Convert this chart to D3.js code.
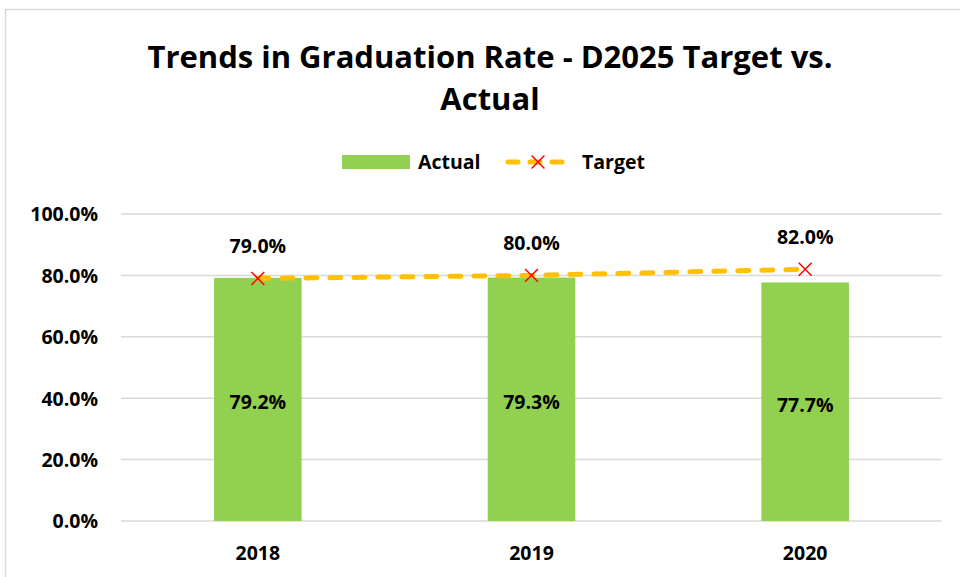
<!DOCTYPE html>
<html>
<head>
<meta charset="utf-8">
<title>Trends in Graduation Rate</title>
<script src="https://cdn.jsdelivr.net/npm/d3@7"></script>
<style>
  body { margin: 0; background: #fff; }
  svg text { font-family: "Open Sans", "Liberation Sans", sans-serif; font-weight: bold; fill: #000; }
</style>
</head>
<body>
<svg id="chart" width="960" height="577"></svg>
<script>
// data
var years = ["2018", "2019", "2020"];
var actual = [79.2, 79.3, 77.7];
var target = [79.0, 80.0, 82.0];
var yTicks = [0, 20, 40, 60, 80, 100];

var svg = d3.select("#chart");
var fs = "19.5px";

// chart frame (runs off the right/bottom edge)
svg.append("rect")
  .attr("x", 5.5).attr("y", 9.5)
  .attr("width", 1000).attr("height", 600)
  .attr("fill", "#fff").attr("stroke", "#d9d9d9").attr("stroke-width", 1.5);

var x = d3.scaleBand().domain(years).range([121, 942]).paddingInner(0.68).paddingOuter(0.34);
var y = d3.scaleLinear().domain([0, 100]).range([521, 214]);

// title
svg.append("text")
  .attr("x", 490).attr("y", 68)
  .attr("text-anchor", "middle")
  .style("font-size", "31px")
  .text("Trends in Graduation Rate - D2025 Target vs.");
svg.append("text")
  .attr("x", 490).attr("y", 110)
  .attr("text-anchor", "middle")
  .style("font-size", "31px")
  .text("Actual");

// gridlines
svg.append("g")
  .selectAll("line")
  .data(yTicks)
  .enter().append("line")
  .attr("x1", 121).attr("x2", 942)
  .attr("y1", function(d) { return y(d); })
  .attr("y2", function(d) { return y(d); })
  .attr("stroke", "#d9d9d9").attr("stroke-width", 1.5);

// y axis labels
var yAxis = svg.append("g")
  .attr("transform", "translate(98,0)")
  .call(d3.axisLeft(y).tickValues(yTicks).tickSize(0).tickPadding(0)
    .tickFormat(function(d) { return d.toFixed(1) + "%"; }));
yAxis.select(".domain").remove();
yAxis.selectAll("text")
  .style("font-size", fs)
  .style("font-family", "Open Sans")
  .attr("dy", "0.35em");

// x axis labels
var xAxis = svg.append("g")
  .attr("transform", "translate(0,521)")
  .call(d3.axisBottom(x).tickSize(0).tickPadding(0));
xAxis.select(".domain").remove();
xAxis.selectAll("text")
  .style("font-size", fs)
  .style("font-family", "Open Sans")
  .attr("y", 32).attr("dy", "0.35em");

// bars
svg.append("g")
  .selectAll("rect")
  .data(actual)
  .enter().append("rect")
  .attr("x", function(d, i) { return x(years[i]); })
  .attr("width", x.bandwidth())
  .attr("y", function(d) { return y(d); })
  .attr("height", function(d) { return y(0) - y(d); })
  .attr("fill", "#92d050");

// bar labels
svg.append("g")
  .selectAll("text")
  .data(actual)
  .enter().append("text")
  .attr("x", function(d, i) { return x(years[i]) + x.bandwidth() / 2; })
  .attr("y", function(d) { return (y(d) + y(0)) / 2 + 3; })
  .attr("dy", "0.35em")
  .attr("text-anchor", "middle")
  .style("font-size", fs)
  .text(function(d) { return d.toFixed(1) + "%"; });

// target line
var cx = function(d, i) { return x(years[i]) + x.bandwidth() / 2; };
var line = d3.line().x(cx).y(function(d) { return y(d); });
svg.append("path")
  .datum(target)
  .attr("d", line)
  .attr("fill", "none")
  .attr("stroke", "#ffc000")
  .attr("stroke-width", 5)
  .attr("stroke-linecap", "round")
  .attr("stroke-dasharray", "11,13");

// markers
var cross = d3.symbol().type(d3.symbolX).size(110);
svg.append("g")
  .selectAll("path")
  .data(target)
  .enter().append("path")
  .attr("transform", function(d, i) { return "translate(" + cx(d, i) + "," + y(d) + ")"; })
  .attr("d", cross)
  .attr("fill", "none")
  .attr("stroke", "#ff0000")
  .attr("stroke-width", 1.5);

// target labels
svg.append("g")
  .selectAll("text")
  .data(target)
  .enter().append("text")
  .attr("x", cx)
  .attr("y", function(d) { return y(d) - 32; })
  .attr("dy", "0.35em")
  .attr("text-anchor", "middle")
  .style("font-size", fs)
  .text(function(d) { return d.toFixed(1) + "%"; });

// legend
var lg = svg.append("g");
lg.append("rect")
  .attr("x", 342).attr("y", 155).attr("width", 68).attr("height", 14)
  .attr("fill", "#92d050");
lg.append("text")
  .attr("x", 418).attr("y", 162).attr("dy", "0.35em")
  .style("font-size", fs)
  .text("Actual");
lg.append("line")
  .attr("x1", 508).attr("x2", 568).attr("y1", 162).attr("y2", 162)
  .attr("stroke", "#ffc000").attr("stroke-width", 5)
  .attr("stroke-linecap", "round")
  .attr("stroke-dasharray", "10,12");
lg.append("path")
  .attr("transform", "translate(538,162)")
  .attr("d", cross)
  .attr("fill", "none")
  .attr("stroke", "#ff0000")
  .attr("stroke-width", 1.5);
lg.append("text")
  .attr("x", 582).attr("y", 162).attr("dy", "0.35em")
  .style("font-size", fs)
  .text("Target");
</script>
</body>
</html>
